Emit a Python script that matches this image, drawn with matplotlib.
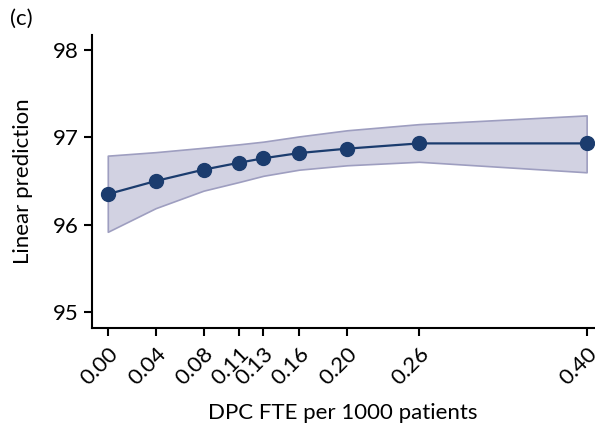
import matplotlib
matplotlib.use("Agg")
import matplotlib.pyplot as plt

plt.rcParams["font.family"] = ["Lato", "DejaVu Sans"]

# ── Data ──
fte = [0.00, 0.04, 0.08, 0.11, 0.13, 0.16, 0.20, 0.26, 0.40]
pred = [96.35, 96.50, 96.63, 96.71, 96.76, 96.82, 96.87, 96.93, 96.93]
ci_low = [95.92, 96.19, 96.39, 96.49, 96.56, 96.63, 96.68, 96.72, 96.60]
ci_high = [96.79, 96.83, 96.88, 96.92, 96.95, 97.01, 97.08, 97.15, 97.25]
tick_labels = ["0.00", "0.04", "0.08", "0.11", "0.13", "0.16", "0.20", "0.26", "0.40"]
y_ticks = [95, 96, 97, 98]

navy = "#1b3c6e"

fig = plt.figure(figsize=(5.95, 4.25), dpi=100)
ax = fig.add_axes([0.155, 0.228, 0.843, 0.69])

ax.fill_between(fte, ci_low, ci_high, facecolor="#d2d2e2", edgecolor="#9e9ec0", linewidth=1.2)
ax.plot(fte, pred, color=navy, linewidth=1.6, marker="o", markersize=10, zorder=3)

ax.set_xlim(-0.013, 0.406)
ax.set_ylim(94.82, 98.17)
ax.set_xticks(fte)
ax.set_xticklabels(tick_labels, rotation=45, ha="right", rotation_mode="anchor", fontsize=16)
ax.set_yticks(y_ticks)
ax.set_yticklabels([str(v) for v in y_ticks], fontsize=16)
ax.tick_params(axis="both", direction="out", length=6, width=1.5, pad=4)
ax.tick_params(axis="x", pad=5)

for s in ["top", "right"]:
    ax.spines[s].set_visible(False)
for s in ["left", "bottom"]:
    ax.spines[s].set_linewidth(1.5)

ax.set_xlabel("DPC FTE per 1000 patients", fontsize=16, labelpad=10)
ax.set_ylabel("Linear prediction", fontsize=16, labelpad=14)

fig.text(0.017, 0.955, "(c)", fontsize=16, va="center")

fig.savefig("out.png", dpi=100)
